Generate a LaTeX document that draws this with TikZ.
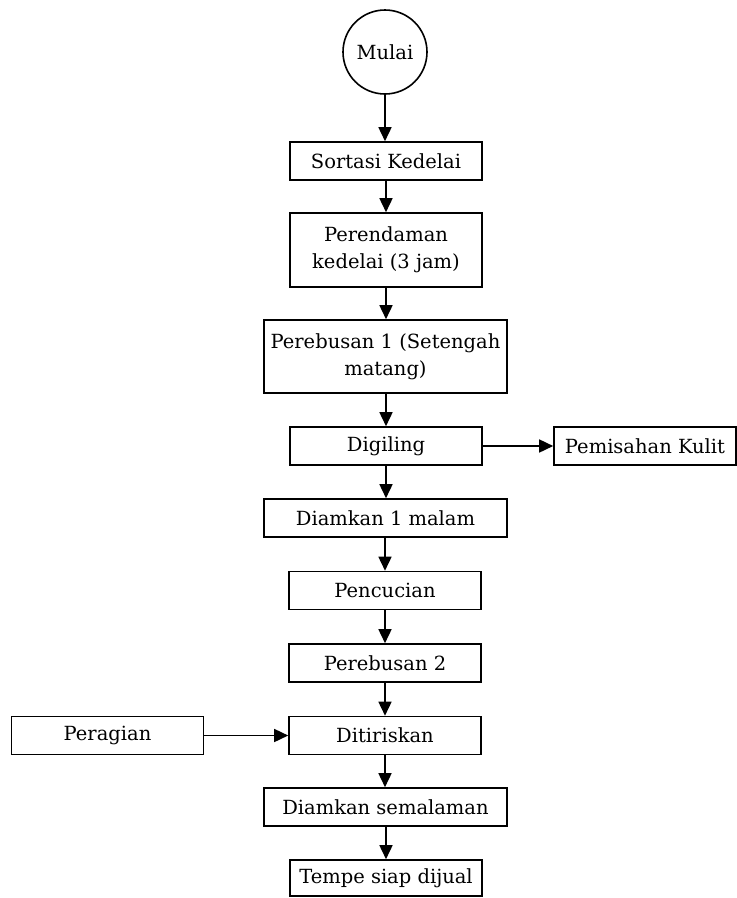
\documentclass[tikz,border=0pt]{standalone}
\usepackage{fontspec}
\setmainfont{DejaVu Serif}
\usetikzlibrary{arrows.meta}
\begin{document}
\begin{tikzpicture}[x=1pt,y=-1pt,
  font=\fontsize{19.5}{27}\selectfont,
  proc/.style={draw,line width=1.6pt,rectangle,inner sep=2pt,align=center,minimum height=38pt},
  narrow/.style={proc,minimum width=192pt},
  wide/.style={proc,minimum width=243pt},
  arr/.style={line width=1.6pt,-{Triangle[length=14pt,width=13pt]}}]
\useasboundingbox (0,0) rectangle (737,898);
\node[draw,circle,line width=1.6pt,minimum size=84pt,inner sep=0pt] (mulai) at (385,52) {Mulai};
\node[narrow] (sortasi) at (386,161) {Sortasi Kedelai};
\node[narrow,minimum height=74pt] (rendam) at (386,250) {Perendaman\\kedelai (3 jam)};
\node[wide,minimum height=73pt] (rebus1) at (385.5,356.5) {Perebusan 1 (Setengah\\matang)};
\node[narrow] (giling) at (386,446) {Digiling};
\node[proc,minimum width=182pt] (kulit) at (645,446) {Pemisahan Kulit};
\node[wide] (diam1) at (385.5,518) {Diamkan 1 malam};
\node[narrow] (cuci) at (385,590.5) {Pencucian};
\node[narrow] (rebus2) at (385,663) {Perebusan 2};
\node[narrow] (tiris) at (385,735.5) {Ditiriskan};
\node[narrow] (ragi) at (107.5,735.5) {Peragian};
\node[wide] (diam2) at (385.5,807) {Diamkan semalaman};
\node[narrow,minimum height=36pt] (tempe) at (386,878) {Tempe siap dijual};
\draw[arr] (mulai) -- (mulai |- sortasi.north);
\draw[arr] (sortasi) -- (sortasi |- rendam.north);
\draw[arr] (rendam) -- (rendam |- rebus1.north);
\draw[arr] (rebus1.south -| giling) -- (giling.north);
\draw[arr] (giling) -- (kulit);
\draw[arr] (giling) -- (giling |- diam1.north);
\draw[arr] (diam1.south -| cuci) -- (cuci.north);
\draw[arr] (cuci) -- (rebus2);
\draw[arr] (rebus2) -- (tiris);
\draw[arr] (ragi) -- (tiris);
\draw[arr] (tiris) -- (tiris |- diam2.north);
\draw[arr] (diam2.south -| tempe) -- (tempe.north);
\end{tikzpicture}
\end{document}
